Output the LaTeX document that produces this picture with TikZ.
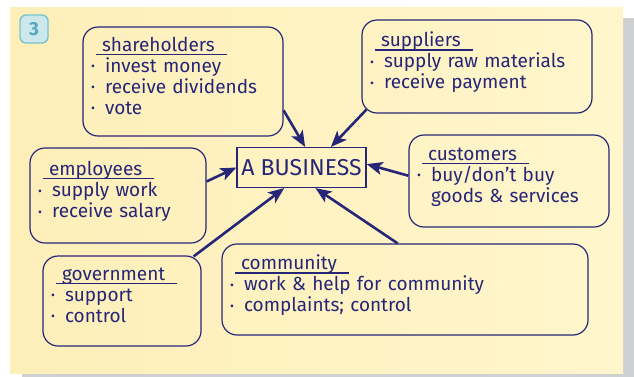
\documentclass[tikz,border=0pt]{standalone}
\usepackage{fontspec}
\setmainfont{Fira Sans}
\usetikzlibrary{arrows.meta}
\definecolor{ink}{RGB}{38,38,120}
\definecolor{paper}{RGB}{254,239,185}
\definecolor{paperlight}{RGB}{255,246,204}
\definecolor{shadow}{RGB}{207,208,210}
\definecolor{tealline}{RGB}{120,196,206}
\definecolor{tealfill}{RGB}{204,232,236}
\definecolor{tealtext}{RGB}{84,170,186}
\newsavebox\headbox
\newcommand\head[1]{\hspace*{5pt}\sbox\headbox{\hspace*{6pt}#1\hspace*{12pt}}%
  \rlap{\rule[-3.6pt]{\wd\headbox}{1.2pt}}\usebox\headbox}
\newcommand\itm{\makebox[14pt][l]{\raisebox{1.5pt}{\fontsize{12}{12}\selectfont\textbullet}}}
\tikzset{
  card/.style={draw=ink, line width=1.2pt, rounded corners=15pt, align=left,
    inner xsep=8pt, inner ysep=0pt, text=ink, font=\fontsize{19}{21}\selectfont,
    execute at end node={\rule[-12pt]{0pt}{0pt}}},
  push/.style={draw=ink, line width=2.6pt, -{Stealth[length=16pt,width=13pt,inset=4pt]}}
}
\begin{document}
\begin{tikzpicture}[x=1pt,y=-1pt]
\useasboundingbox (0,0) rectangle (634,376);
\fill[shadow] (22,18) rectangle (640,385);
\shade[left color=paper, right color=paperlight] (10,7) rectangle (623,373);
\node[draw=tealline, line width=1.4pt, fill=tealfill, rounded corners=6pt, minimum size=28pt,
  text=tealtext, font=\bfseries\fontsize{19}{19}\selectfont] (num) at (34,29) {3};
\node[draw=ink, line width=1.2pt, minimum width=129pt, minimum height=40pt, inner xsep=2pt,
  text=ink, font=\fontsize{23}{23}\selectfont] (biz) at (301.5,167.5) {A BUSINESS};
\node[card, text width=184pt, minimum height=109pt] (sh) at (183,81.5)
  {\head{shareholders}\\ \itm invest money\\ \itm receive dividends\\ \itm vote};
\node[card, text width=214pt, minimum height=93pt] (su) at (477,66.5)
  {\head{suppliers}\\ \itm supply raw materials\\ \itm receive payment};
\node[card, text width=160pt, minimum height=95pt] (em) at (118,195.5)
  {\head{employees}\\ \itm supply work\\ \itm receive salary};
\node[card, text width=184pt, minimum height=92pt] (cu) at (509,181)
  {\head{customers}\\ \itm buy/don't buy\\ \hspace*{14pt}goods \& services};
\node[card, text width=142pt, minimum height=90pt] (go) at (122,301)
  {\head{government}\\ \itm support\\ \itm control};
\node[card, text width=350pt, minimum height=91pt] (co) at (405,289.5)
  {\head{community}\\ \itm work \& help for community\\ \itm complaints; control};
\draw[push] (sh.-16) -- (biz.80);
\draw[push] ([shift={(5,-4)}]su.south west) -- (biz.35);
\draw[push] (em.9) -- (biz.west);
\draw[push] (cu.177) -- (biz.3);
\draw[push] ([shift={(-8,1)}]go.north east) -- (biz.230);
\draw[push] (co.99) -- (biz.-56);
\end{tikzpicture}
\end{document}
